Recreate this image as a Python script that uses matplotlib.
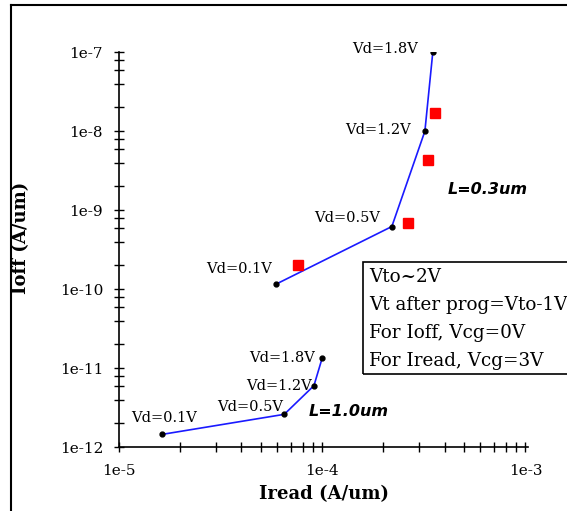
import matplotlib
matplotlib.use("Agg")
import matplotlib.pyplot as plt
import numpy as np
from matplotlib.ticker import LogLocator, NullFormatter, FixedLocator, FixedFormatter
from matplotlib.lines import Line2D
from matplotlib.patches import Rectangle

# L=0.3um, simulated curve (blue line with dots)
iread_03 = [5.9e-5, 2.2e-4, 3.2e-4, 3.5e-4]
ioff_03 = [1.15e-10, 6.2e-10, 1.0e-8, 1.0e-7]
vd_03 = ["Vd=0.1V", "Vd=0.5V", "Vd=1.2V", "Vd=1.8V"]

# L=0.3um, measured points (red squares)
iread_meas = [7.6e-5, 2.65e-4, 3.3e-4, 3.6e-4]
ioff_meas = [2.0e-10, 6.8e-10, 4.3e-9, 1.7e-8]

# L=1.0um curve
iread_10 = [1.63e-5, 6.5e-5, 9.1e-5, 1.0e-4]
ioff_10 = [1.45e-12, 2.6e-12, 6.0e-12, 1.35e-11]
vd_10 = ["Vd=0.1V", "Vd=0.5V", "Vd=1.2V", "Vd=1.8V"]

xticks = [1e-5, 1e-4, 1e-3]
xticklabels = ["1e-5", "1e-4", "1e-3"]
yticks = [1e-12, 1e-11, 1e-10, 1e-9, 1e-8, 1e-7]
yticklabels = ["1e-12", "1e-11", "1e-10", "1e-9", "1e-8", "1e-7"]

notes = ["Vto~2V", "Vt after prog=Vto-1V", "For Ioff, Vcg=0V", "For Iread, Vcg=3V"]

serif = "DejaVu Serif"

fig = plt.figure(figsize=(5.67, 5.11), dpi=100)
ax = fig.add_axes([0.21, 0.125, 0.722, 0.773])

ax.plot(iread_03, ioff_03, color="#1a1aff", lw=1.2, marker="o", ms=3.5,
        mfc="black", mec="black", zorder=3)
ax.plot(iread_10, ioff_10, color="#1a1aff", lw=1.2, marker="o", ms=3.5,
        mfc="black", mec="black", zorder=3)
ax.plot(iread_meas, ioff_meas, ls="none", marker="s", ms=7.5, mfc="#ff0000",
        mec="#ff0000", zorder=4)

ax.set_xscale("log")
ax.set_yscale("log")
ax.set_xlim(1e-5, 1e-3 * 10 ** (3 / 203))
ax.set_ylim(1e-12, 1e-7)

ax.xaxis.set_major_locator(FixedLocator(xticks))
ax.xaxis.set_major_formatter(FixedFormatter(xticklabels))
ax.xaxis.set_minor_locator(LogLocator(base=10, subs=np.arange(2, 10)))
ax.xaxis.set_minor_formatter(NullFormatter())
ax.yaxis.set_major_locator(FixedLocator(yticks))
ax.yaxis.set_major_formatter(FixedFormatter(yticklabels))
ax.yaxis.set_minor_locator(LogLocator(base=10, subs=(2, 4, 6, 8)))
ax.yaxis.set_minor_formatter(NullFormatter())

ax.tick_params(which="both", direction="inout", length=7, width=1, color="black")
ax.tick_params(axis="x", pad=9)
ax.tick_params(axis="y", pad=8)
for lab in ax.get_xticklabels() + ax.get_yticklabels():
    lab.set_fontfamily(serif)
    lab.set_fontsize(11)

ax.spines["top"].set_visible(False)
ax.spines["right"].set_visible(False)
ax.spines["left"].set_linewidth(1.2)
ax.spines["bottom"].set_linewidth(1.2)

ax.set_xlabel("Iread (A/um)", fontfamily=serif, fontweight="bold", fontsize=13, labelpad=5)
ax.set_ylabel("Ioff (A/um)", fontfamily=serif, fontweight="bold", fontsize=13)
ax.yaxis.set_label_coords(-0.218, 0.53)

# Vd annotations
offs_03 = [(-3, 11), (-8.5, 6), (-10, 1), (-11, 2)]
for (x, y, t), o in zip(zip(iread_03, ioff_03, vd_03), offs_03):
    ax.annotate(t, (x, y), xytext=o, textcoords="offset points",
                ha="right", va="center", fontfamily=serif, fontsize=10.5)
offs_10 = [(1.5, 11.5), (-1, 5), (-1.5, 0), (-5, 0)]
has_10 = ["center", "right", "right", "right"]
for (x, y, t), o, h in zip(zip(iread_10, ioff_10, vd_10), offs_10, has_10):
    ax.annotate(t, (x, y), xytext=o, textcoords="offset points",
                ha=h, va="center", fontfamily=serif, fontsize=10.5)

ax.text(0.802, 0.651, "L=0.3um", transform=ax.transAxes, fontfamily="DejaVu Sans",
        fontweight="bold", fontstyle="italic", fontsize=11.5, ha="left", va="center")
ax.text(0.462, 0.089, "L=1.0um", transform=ax.transAxes, fontfamily="DejaVu Sans",
        fontweight="bold", fontstyle="italic", fontsize=11.5, ha="left", va="center")

# note box
box = Rectangle((363 / 567, 1 - 374 / 511), 0.4, 112 / 511, transform=fig.transFigure,
                fill=False, edgecolor="black", lw=1.2, clip_on=False)
fig.patches.append(box)
for i, t in enumerate(notes):
    fig.text(369 / 567, 1 - (277 + i * 28) / 511, t, fontfamily=serif, fontsize=13.2,
             ha="left", va="center")

# outer frame (left and top edges visible)
fig.add_artist(Line2D([11 / 567, 11 / 567], [0, 1 - 5 / 511], color="black", lw=1.5,
                      transform=fig.transFigure))
fig.add_artist(Line2D([11 / 567, 1], [1 - 5 / 511, 1 - 5 / 511], color="black", lw=1.5,
                      transform=fig.transFigure))

plt.savefig("out.png", dpi=100)
